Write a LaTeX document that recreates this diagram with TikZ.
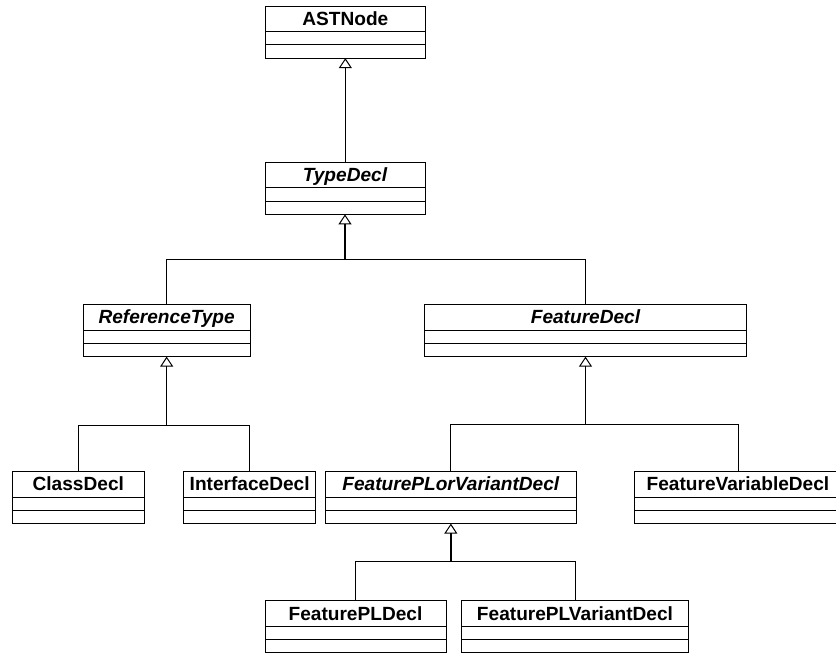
\documentclass[tikz,border=0pt]{standalone}
\usepackage{fontspec}
\setmainfont{Liberation Sans}
\usetikzlibrary{arrows.meta,calc}

% A UML class box: name, left x, right x, top y, label
% Header of 25.5 and two empty compartments of 13.3 each.
\newcommand\umlclass[5]{%
  \node[classbox, minimum width={#3-#2}, anchor=north west] (#1) at (#2,-#4) {};
  \node[classname, anchor=base] (#1-label) at ($(#1.north)+(0,-19.3)$) {#5};
  \draw[classline] ($(#1.north west)+(0,-25.5)$) -- ($(#1.north east)+(0,-25.5)$);
  \draw[classline] ($(#1.north west)+(0,-38.8)$) -- ($(#1.north east)+(0,-38.8)$);
}

\begin{document}
\begin{tikzpicture}[x=1pt,y=1pt,
  classbox/.style={draw=black, line width=1pt, fill=white, minimum height=52.1, inner sep=0pt, outer sep=0pt},
  classname/.style={inner sep=0pt, font=\fontsize{19.1}{22}\selectfont\bfseries},
  classline/.style={line width=1pt},
  link/.style={line width=1pt},
  generalize/.style={line width=1.3pt, -{Triangle[open, width=13pt, length=10pt, line width=1pt]}},
]
\useasboundingbox (0,0) rectangle (836,-653);
\clip (0,0) rectangle (836,-653);

\umlclass{ASTNode}{265}{425.7}{6}{ASTNode}
\umlclass{TypeDecl}{265}{425}{162.3}{\itshape TypeDecl}
\umlclass{ReferenceType}{83.3}{250}{304.5}{\itshape ReferenceType}
\umlclass{FeatureDecl}{424.3}{746.7}{304.5}{\itshape FeatureDecl}
\umlclass{ClassDecl}{12.3}{144.3}{471.5}{ClassDecl}
\umlclass{InterfaceDecl}{183.7}{315.7}{471.5}{InterfaceDecl}
\umlclass{FeaturePLorVariantDecl}{325.7}{576}{471.5}{\itshape FeaturePLorVariantDecl}
\umlclass{FeatureVariableDecl}{634}{842}{471.5}{FeatureVariableDecl}
\umlclass{FeaturePLDecl}{265}{446}{600.7}{FeaturePLDecl}
\umlclass{FeaturePLVariantDecl}{461.7}{688.3}{600.7}{FeaturePLVariantDecl}

% junction points of the generalization trees
\coordinate (jType) at ($(TypeDecl.south)+(0,-45.3)$);
\coordinate (jRef) at ($(ReferenceType.south)+(0,-69)$);
\coordinate (jFeat) at ($(FeatureDecl.south)+(0,-68.3)$);
\coordinate (jPLV) at ($(FeaturePLorVariantDecl.south)+(0,-38)$);

\draw[generalize] (TypeDecl.north -| ASTNode.south) -- (ASTNode.south);

\draw[generalize] (jType) -- (TypeDecl.south);
\draw[link] (ReferenceType.north) |- (jType) -| (FeatureDecl.north);

\draw[generalize] (jRef) -- (ReferenceType.south);
\draw[link] (ClassDecl.north) |- (jRef) -| (InterfaceDecl.north);

\draw[generalize] (jFeat) -- (FeatureDecl.south);
\draw[link] (FeaturePLorVariantDecl.north) |- (jFeat) -| (FeatureVariableDecl.north);

\draw[generalize] (jPLV) -- (FeaturePLorVariantDecl.south);
\draw[link] (FeaturePLDecl.north) |- (jPLV) -| (FeaturePLVariantDecl.north);
\end{tikzpicture}
\end{document}
